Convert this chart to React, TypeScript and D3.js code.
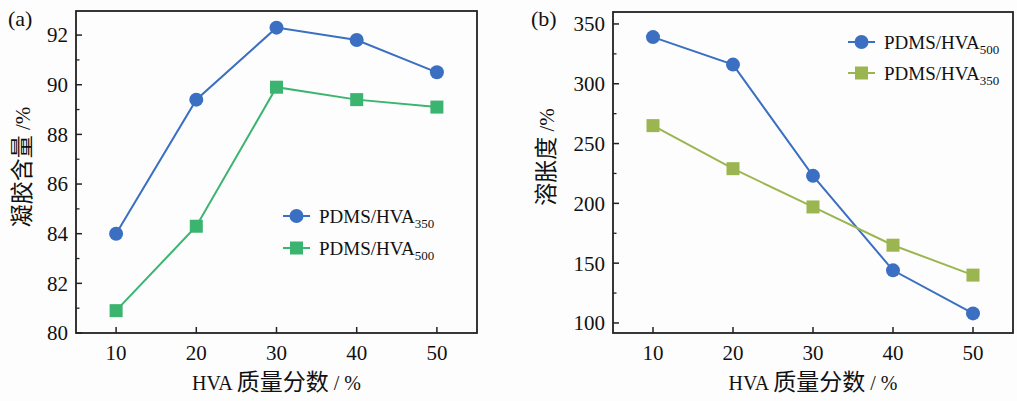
import React from "react";
import * as d3 from "d3";

const xValues = [10, 20, 30, 40, 50];
const xTicks = [10, 20, 30, 40, 50];

// Panel (a)
const gelHVA350 = [84.0, 89.4, 92.3, 91.8, 90.5];
const gelHVA500 = [80.9, 84.3, 89.9, 89.4, 89.1];
const aYTicks = [80, 82, 84, 86, 88, 90, 92];
const aYMinor = [81, 83, 85, 87, 89, 91];

// Panel (b)
const swellHVA500 = [339, 316, 223, 144, 108];
const swellHVA350 = [265, 229, 197, 165, 140];
const bYTicks = [100, 150, 200, 250, 300, 350];
const bYMinor = [125, 175, 225, 275, 325];

const FONT = "Liberation Serif, Times New Roman, Noto Sans CJK SC, serif";
const BLUE = "#3a6fc2";
const GREEN = "#3bb46f";
const OLIVE = "#9bb651";

type Series = { name: string; sub: string; values: number[]; color: string; shape: "circle" | "square" };

function T(props: any) {
  const { style, ...rest } = props;
  return <text {...rest} style={{ fontFamily: FONT, ...(style || {}) }} />;
}

function Panel(props: {
  left: number; right: number; top: number; bottom: number;
  yDomain: [number, number]; yTicks: number[]; yMinor: number[];
  series: Series[]; yTitleCJK: string; label: string; labelX: number;
  yTitleX: number; yTitleY: number;
  legendX: number; legendY: number; legendGap: number;
}) {
  const x = d3.scaleLinear().domain([5, 55]).range([props.left, props.right]);
  const y = d3.scaleLinear().domain(props.yDomain).range([props.bottom, props.top]);
  const line = d3.line<[number, number]>().x(d => x(d[0])).y(d => y(d[1]));
  const stroke = "#222";
  const marker = (s: Series, cx: number, cy: number, key: string) =>
    s.shape === "circle" ? (
      <circle key={key} cx={cx} cy={cy} r={7} fill={s.color} />
    ) : (
      <rect key={key} x={cx - 6.5} y={cy - 6.5} width={13} height={13} fill={s.color} />
    );
  return (
    <g>
      {props.series.map((s, i) => (
        <path key={"l" + i} d={line(xValues.map((v, j) => [v, s.values[j]]) as [number, number][]) || ""}
          fill="none" stroke={s.color} strokeWidth={2} />
      ))}
      {props.series.map((s, i) => xValues.map((v, j) => marker(s, x(v), y(s.values[j]), `m${i}-${j}`)))}
      <rect x={props.left} y={props.top} width={props.right - props.left} height={props.bottom - props.top}
        fill="none" stroke={stroke} strokeWidth={1.8} />
      {props.yTicks.map(t => (
        <g key={"yt" + t}>
          <line x1={props.left} x2={props.left + 6} y1={y(t)} y2={y(t)} stroke={stroke} strokeWidth={1.5} />
          <T x={props.left - 8} y={y(t)} dy="0.35em" textAnchor="end" fontSize={21} fill="#111">{t}</T>
        </g>
      ))}
      {props.yMinor.map(t => (
        <line key={"ym" + t} x1={props.left} x2={props.left + 3.5} y1={y(t)} y2={y(t)} stroke={stroke} strokeWidth={1.3} />
      ))}
      {xTicks.map(t => (
        <g key={"xt" + t}>
          <line x1={x(t)} x2={x(t)} y1={props.bottom} y2={props.bottom - 6} stroke={stroke} strokeWidth={1.5} />
          <T x={x(t)} y={props.bottom + 20} dy="0.35em" textAnchor="middle" fontSize={21} fill="#111">{t}</T>
        </g>
      ))}
      <T x={(props.left + props.right) / 2} y={props.bottom + 50} dy="0.35em" textAnchor="middle" fontSize={20} fill="#111">
        HVA <tspan fontSize={23}>质量分数</tspan> / %
      </T>
      <T transform={`translate(${props.yTitleX},${props.yTitleY}) rotate(-90)`} dy="0.35em" textAnchor="middle" fontSize={21} fill="#111">
        <tspan fontSize={23}>{props.yTitleCJK}</tspan> /%
      </T>
      <T x={props.labelX} y={18} dy="0.35em" fontSize={22} fill="#111">{props.label}</T>
      {props.series.map((s, i) => {
        const ly = props.legendY + i * props.legendGap;
        return (
          <g key={"lg" + i}>
            <line x1={props.legendX} x2={props.legendX + 27} y1={ly} y2={ly} stroke={s.color} strokeWidth={2} />
            {marker(s, props.legendX + 13.5, ly, "lm" + i)}
            <T x={props.legendX + 36} y={ly} dy="0.35em" fontSize={19} fill="#111">
              {s.name}
              <tspan fontSize={13} dy="5">{s.sub}</tspan>
            </T>
          </g>
        );
      })}
    </g>
  );
}

export default function App() {
  const seriesA: Series[] = [
    { name: "PDMS/HVA", sub: "350", values: gelHVA350, color: BLUE, shape: "circle" },
    { name: "PDMS/HVA", sub: "500", values: gelHVA500, color: GREEN, shape: "square" },
  ];
  const seriesB: Series[] = [
    { name: "PDMS/HVA", sub: "500", values: swellHVA500, color: BLUE, shape: "circle" },
    { name: "PDMS/HVA", sub: "350", values: swellHVA350, color: OLIVE, shape: "square" },
  ];
  return (
    <svg width={1017} height={401} style={{ position: "absolute", left: 0, top: 0, background: "#fdfdfd" }}>
      <Panel left={76} right={477} top={11} bottom={333}
        yDomain={[80, 92.97]} yTicks={aYTicks} yMinor={aYMinor}
        series={seriesA} yTitleCJK="凝胶含量" label="(a)" labelX={8}
        yTitleX={23} yTitleY={167}
        legendX={283} legendY={216} legendGap={32} />
      <Panel left={613} right={1013} top={12} bottom={333}
        yDomain={[91.6, 360]} yTicks={bYTicks} yMinor={bYMinor}
        series={seriesB} yTitleCJK="溶胀度" label="(b)" labelX={531}
        yTitleX={547} yTitleY={157}
        legendX={848} legendY={42} legendGap={31} />
    </svg>
  );
}
